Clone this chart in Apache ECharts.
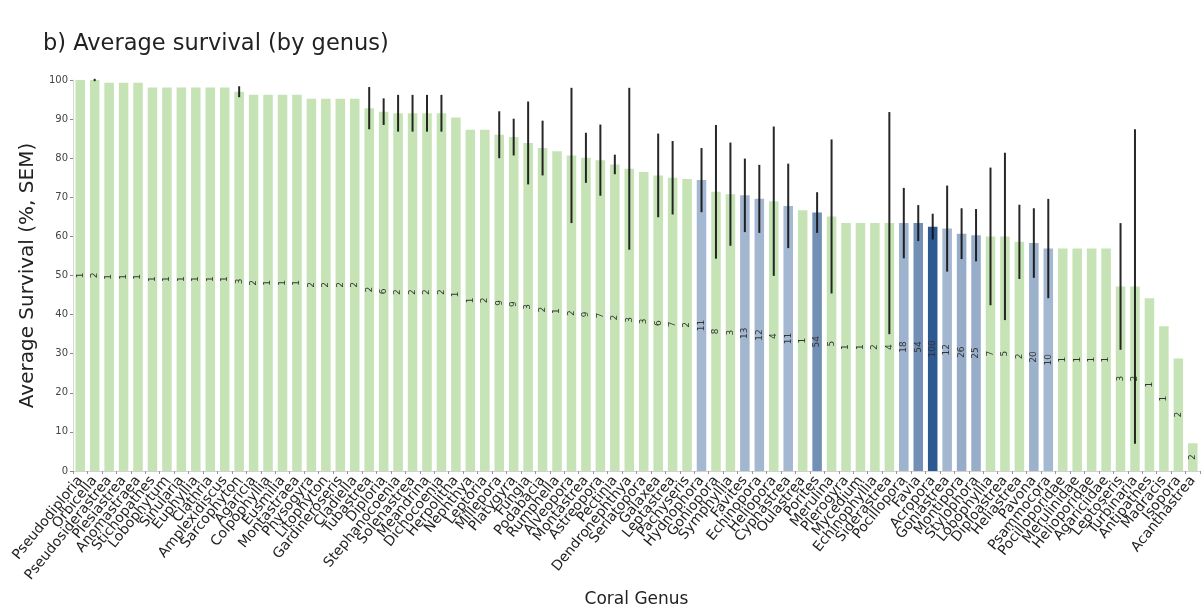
<!DOCTYPE html>
<html>
<head>
<meta charset="utf-8">
<script src="https://cdn.jsdelivr.net/npm/echarts@6/dist/echarts.min.js"></script>
<style>
  html, body { margin: 0; padding: 0; background: #fff; }
  #chart { width: 1203px; height: 613px; }
</style>
</head>
<body>
<div id="chart"></div>
<script>
// Coral genera, ordered by average survival
const genera = [
  'Pseudodiploria', 'Orbicella', 'Pseudosiderastrea', 'Plesiastrea', 'Anomastraea',
  'Stichopathes', 'Lobophytum', 'Sinularia', 'Euphyllia', 'Clathria',
  'Amplexidiscus', 'Sarcophyton', 'Agaricia', 'Colpophyllia', 'Eusmilia',
  'Montastraea', 'Physogyra', 'Litophyton', 'Gardineroseris', 'Cladiella',
  'Tubastrea', 'Diploria', 'Stephanocoenia', 'Solenastrea', 'Meandrina',
  'Dichocoenia', 'Herpolitha', 'Nephthya', 'Leptoria', 'Millepora',
  'Platygyra', 'Fungia', 'Podabacia', 'Rumphella', 'Alveopora',
  'Montastrea', 'Astreopora', 'Pectinia', 'Dendronephthya', 'Seriatopora',
  'Galaxea', 'Leptastrea', 'Pachyseris', 'Hydnophora', 'Goniopora',
  'Symphyllia', 'Favites', 'Echinopora', 'Heliopora', 'Cyphastrea',
  'Oulastrea', 'Porites', 'Merulina', 'Plerogyra', 'Mycedium',
  'Echinophyllia', 'Siderastrea', 'Pocillopora', 'Favia', 'Acropora',
  'Goniastrea', 'Montipora', 'Stylophora', 'Lobophyllia', 'Diploastrea',
  'Heliastrea', 'Pavona', 'Psammocora', 'Pocilloporidae', 'Merulinidae',
  'Helioporidae', 'Agariciidae', 'Leptoseris', 'Turbinaria', 'Antipathes',
  'Madracis', 'Isopora', 'Acanthastrea'
];

// Average survival (%)
const survival = [
  100, 100, 99.3, 99.3, 99.3, 98.1, 98.1, 98.1, 98.1, 98.1,
  98.1, 97.0, 96.2, 96.2, 96.2, 96.2, 95.2, 95.2, 95.2, 95.2,
  92.8, 91.9, 91.5, 91.5, 91.5, 91.5, 90.4, 87.3, 87.3, 86.0,
  85.4, 83.9, 82.6, 81.8, 80.7, 80.1, 79.5, 78.4, 77.3, 76.5,
  75.6, 75.0, 74.7, 74.4, 71.4, 70.8, 70.5, 69.6, 69.0, 67.8,
  66.7, 66.1, 65.1, 63.4, 63.4, 63.4, 63.4, 63.4, 63.4, 62.5,
  62.0, 60.7, 60.3, 60.0, 60.0, 58.6, 58.3, 56.9, 56.9, 56.9,
  56.9, 56.9, 47.2, 47.2, 44.2, 37.0, 28.8, 7.1
];

// Standard error of the mean (null: no error bar)
const sem = [
  null, 0.3, null, null, null, null, null, null, null, null,
  null, 1.4, null, null, null, null, null, null, null, null,
  5.4, 3.4, 4.7, 4.7, 4.7, 4.7, null, null, null, 6.0,
  4.7, 10.6, 7.0, null, 17.3, 6.4, 9.1, 2.5, 20.7, null,
  10.7, 9.4, null, 8.2, 17.1, 13.2, 9.4, 8.7, 19.1, 10.8,
  null, 5.2, 19.7, null, null, null, 28.4, 9.0, 4.6, 3.3,
  11.0, 6.5, 6.7, 17.6, 21.4, 9.5, 8.9, 12.7, null, null,
  null, null, 16.2, 40.2, null, null, null, null
];

// Number of records per genus
const nSamples = [
  1, 2, 1, 1, 1, 1, 1, 1, 1, 1,
  1, 3, 2, 1, 1, 1, 2, 2, 2, 2,
  2, 6, 2, 2, 2, 2, 1, 1, 2, 9,
  9, 3, 2, 1, 2, 9, 7, 2, 3, 3,
  6, 7, 2, 11, 8, 3, 13, 12, 4, 11,
  1, 54, 5, 1, 1, 2, 4, 18, 54, 100,
  12, 26, 25, 7, 5, 2, 20, 10, 1, 1,
  1, 1, 3, 2, 1, 1, 2, 2
];

const GREEN = '#c6e3b6';
const BLUE_LIGHT = [165, 184, 209];
const BLUE_DARK = [44, 89, 146];

// Genera with 10+ records are shaded blue, darker with more records
function barColor(n) {
  if (n < 10) return GREEN;
  const t = Math.pow(Math.min(1, (n - 10) / 90), 1.2);
  const c = BLUE_LIGHT.map((v, k) => Math.round(v + (BLUE_DARK[k] - v) * t));
  return 'rgb(' + c.join(',') + ')';
}

const barData = survival.map((v, i) => ({
  value: v,
  itemStyle: { color: barColor(nSamples[i]) }
}));

const errorData = [];
sem.forEach((s, i) => {
  if (s != null) errorData.push([i, survival[i] - s, survival[i] + s]);
});

const chart = echarts.init(document.getElementById('chart'), null, { renderer: 'canvas' });

chart.setOption({
  backgroundColor: '#ffffff',
  animation: false,
  title: {
    text: 'b) Average survival (by genus)',
    left: 38,
    top: 28,
    textStyle: { fontFamily: 'DejaVu Sans', fontSize: 22.5, fontWeight: 'normal', color: '#222' }
  },
  grid: { left: 73, right: 3, top: 80, bottom: 140, containLabel: false },
  xAxis: {
    type: 'category',
    data: genera,
    name: 'Coral Genus',
    nameLocation: 'middle',
    nameGap: 120,
    nameTextStyle: { fontFamily: 'DejaVu Sans', fontSize: 17, color: '#222' },
    axisLine: { show: true, lineStyle: { color: '#d0d0d0', width: 1 } },
    axisTick: { show: true, length: 3, lineStyle: { color: '#999' } },
    axisLabel: {
      interval: 0,
      rotate: 51,
      margin: 7,
      fontFamily: 'DejaVu Sans',
      fontSize: 14,
      color: '#1e1e1e'
    }
  },
  yAxis: {
    type: 'value',
    min: 0,
    max: 100,
    interval: 10,
    name: 'Average Survival (%, SEM)',
    nameLocation: 'middle',
    nameRotate: 90,
    nameGap: 27,
    nameTextStyle: { fontFamily: 'DejaVu Sans', fontSize: 20, color: '#222' },
    axisLine: { show: true, lineStyle: { color: '#d8d8d8', width: 1 } },
    axisTick: { show: true, length: 3, lineStyle: { color: '#888' } },
    axisLabel: { fontFamily: 'DejaVu Sans', fontSize: 10, color: '#444', margin: 5 },
    splitLine: { show: false }
  },
  series: [
    {
      type: 'bar',
      data: barData,
      barCategoryGap: '34%',
      label: {
        show: true,
        position: 'inside',
        rotate: 90,
        fontFamily: 'DejaVu Sans',
        fontSize: 9,
        color: '#333',
        formatter: p => String(nSamples[p.dataIndex])
      }
    },
    {
      type: 'custom',
      data: errorData,
      encode: { x: 0, y: [1, 2] },
      z: 5,
      renderItem: function (params, api) {
        const i = api.value(0);
        const lo = api.coord([i, api.value(1)]);
        const hi = api.coord([i, api.value(2)]);
        return {
          type: 'line',
          shape: { x1: lo[0], y1: lo[1], x2: hi[0], y2: hi[1] },
          style: { stroke: 'rgba(15,15,15,0.9)', lineWidth: 2 }
        };
      }
    }
  ]
});
</script>
</body>
</html>
